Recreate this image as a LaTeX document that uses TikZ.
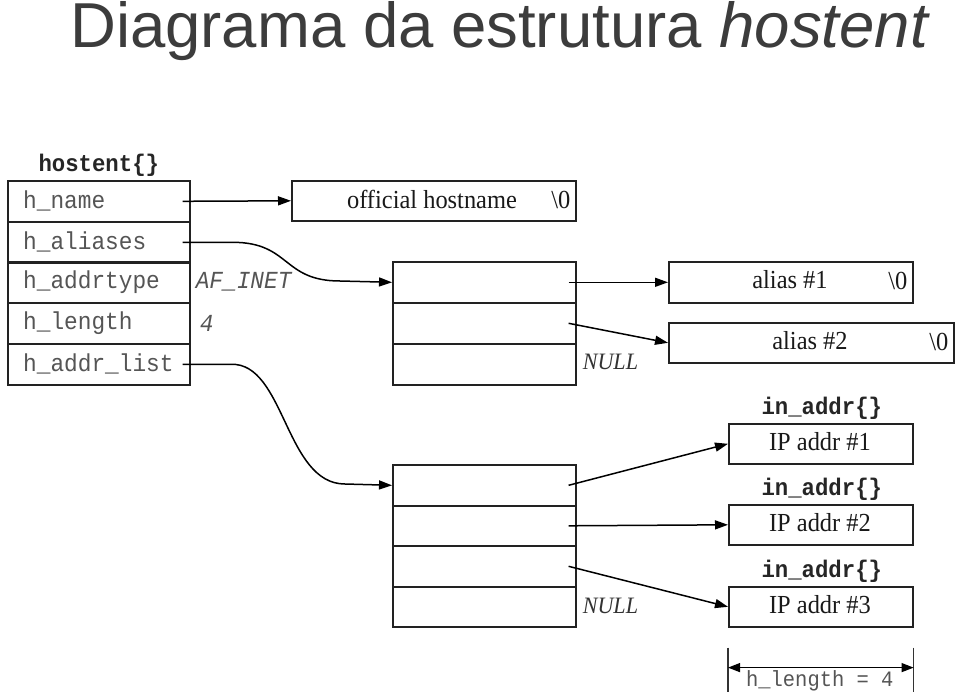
\documentclass[tikz,border=0pt]{standalone}
\usepackage{fontspec}
\setmainfont{Liberation Serif}
\newfontfamily\titlefont{Liberation Sans}
\newfontfamily\monofnt[FakeStretch=0.93]{Liberation Mono}
\newfontfamily\seriffnt[FakeStretch=0.94]{Liberation Serif}
\usetikzlibrary{arrows.meta,calc}
\definecolor{titlegray}{HTML}{3C3C3C}
\definecolor{linegray}{HTML}{222222}
\definecolor{monogray}{HTML}{555555}
\tikzset{
  cell/.style={draw=linegray, line width=1.6pt, inner sep=0pt, anchor=north west, minimum height=41pt},
  monolbl/.style={inner sep=0pt, text=monogray, font=\monofnt\fontsize{24.5}{24.5}\selectfont},
  monoital/.style={inner sep=0pt, text=monogray, font=\monofnt\itshape\fontsize{24.5}{24.5}\selectfont},
  monobold/.style={inner sep=0pt, text=black!85, font=\monofnt\bfseries\fontsize{24}{24}\selectfont},
  seriflbl/.style={inner sep=0pt, text=black!90, font=\seriffnt\fontsize{26}{26}\selectfont},
  nulllbl/.style={inner sep=0pt, text=black!80, font=\seriffnt\itshape\fontsize{23.5}{23.5}\selectfont},
  conn/.style={draw=black, line width=1.5pt, -{Triangle[length=13pt,width=9pt]}},
}
\begin{document}
\begin{tikzpicture}[x=1pt,y=-1pt]
\fill[white] (0,0) rectangle (960,698);
\path[use as bounding box] (0,0) rectangle (960,698);

% title
\node[anchor=base west, inner sep=0pt, text=titlegray] (title) at (70,48)
  {\titlefont\fontsize{63.5}{63.5}\selectfont Diagrama da estrutura \textit{hostent}};

% hostent structure
\node[cell, minimum width=182pt] (hn) at (7,180) {};
\node[cell, minimum width=182pt] (ha) at (7,221) {};
\node[cell, minimum width=182pt] (ht) at (7,261) {};
\node[cell, minimum width=182pt] (hl) at (7,302) {};
\node[cell, minimum width=182pt] (hd) at (7,343) {};
\node[monobold, anchor=south] (hlabel) at ([yshift=3pt]hn.north) {hostent\{\}};
\node[monolbl, anchor=west] (t1) at ([xshift=16pt]hn.west) {h\_name};
\node[monolbl, anchor=west] (t2) at ([xshift=16pt]ha.west) {h\_aliases};
\node[monolbl, anchor=west] (t3) at ([xshift=16pt]ht.west) {h\_addrtype};
\node[monolbl, anchor=west] (t4) at ([xshift=16pt]hl.west) {h\_length};
\node[monolbl, anchor=west] (t5) at ([xshift=16pt]hd.west) {h\_addr\_list};
\node[monoital, anchor=west] (afinet) at ([xshift=5pt,yshift=1pt]ht.east) {AF\_INET};
\node[monoital, anchor=west] (four) at ([xshift=9pt]hl.east) {4};

% official hostname
\node[cell, minimum width=284pt, minimum height=40pt] (oh) at (291,180) {};
\node[seriflbl] (ohtxt) at (432,199) {official hostname};
\node[seriflbl, anchor=east] (oh0) at ([xshift=-6pt,yshift=1pt]oh.east) {\textbackslash 0};

% alias pointer array
\node[cell, minimum width=183pt] (a1) at (392,261) {};
\node[cell, minimum width=183pt] (a2) at (392,302) {};
\node[cell, minimum width=183pt] (a3) at (392,343) {};
\node[nulllbl, anchor=west] (null1) at ([xshift=6pt,yshift=2pt]a3.east) {NULL};

% alias strings
\node[cell, minimum width=244pt] (al1) at (668,261) {};
\node[seriflbl] (al1t) at (790,280) {alias \#1};
\node[seriflbl, anchor=east] (al10) at ([xshift=-6pt,yshift=1pt]al1.east) {\textbackslash 0};
\node[cell, minimum width=285pt, minimum height=40pt] (al2) at (668,322) {};
\node[seriflbl] (al2t) at (810,341) {alias \#2};
\node[seriflbl, anchor=east] (al20) at ([xshift=-6pt,yshift=1pt]al2.east) {\textbackslash 0};

% address pointer array
\node[cell, minimum width=183pt, minimum height=41pt] (b1) at (392,464) {};
\node[cell, minimum width=183pt, minimum height=40pt] (b2) at (392,505) {};
\node[cell, minimum width=183pt, minimum height=41pt] (b3) at (392,545) {};
\node[cell, minimum width=183pt, minimum height=40pt] (b4) at (392,586) {};
\node[nulllbl, anchor=west] (null2) at ([xshift=6pt,yshift=1pt]b4.east) {NULL};

% in_addr structures
\node[cell, minimum width=184pt, minimum height=40pt] (ip1) at (728,423) {};
\node[cell, minimum width=184pt, minimum height=40pt] (ip2) at (728,504) {};
\node[cell, minimum width=184pt, minimum height=40pt] (ip3) at (728,586) {};
\node[seriflbl] (ip1t) at (820,442) {IP addr \#1};
\node[seriflbl] (ip2t) at (820,523) {IP addr \#2};
\node[seriflbl] (ip3t) at (820,605) {IP addr \#3};
\node[monobold, anchor=south] (in1) at ([xshift=1pt,yshift=3pt]ip1.north) {in\_addr\{\}};
\node[monobold, anchor=south] (in2) at ([xshift=1pt,yshift=3pt]ip2.north) {in\_addr\{\}};
\node[monobold, anchor=south] (in3) at ([xshift=1pt,yshift=3pt]ip3.north) {in\_addr\{\}};

% connectors
\draw[conn] ([xshift=-8pt]hn.east) -- (oh.west);
\draw[conn] ([xshift=-8pt]ha.east) -- ++(50,0) .. controls ++(58,0) and (282,281) .. (340,281) -- (a1.west);
\draw[conn] ([xshift=-8pt]hd.east) -- ++(48,0) .. controls (285,362) and (285,484) .. (345,484) -- (b1.west);
\draw[conn] ([xshift=-8pt]a1.east) -- (al1.west);
\draw[conn] ([xshift=-8pt]a2.east) -- (al2.west);
\draw[conn] ([xshift=-8pt]b1.east) -- (ip1.west);
\draw[conn] ([xshift=-8pt]b2.east) -- (ip2.west);
\draw[conn] ([xshift=-8pt]b3.east) -- (ip3.west);

% dimension
\coordinate (dl) at ([yshift=-20pt]ip3.south west);
\coordinate (dr) at ([yshift=-20pt]ip3.south east);
\draw[draw=black!80, line width=1.6pt] (dl) -- ++(0,44);
\draw[draw=black!80, line width=1.6pt] (dr) -- ++(0,44);
\draw[line width=1.2pt, {Triangle[length=12pt,width=9pt]}-{Triangle[length=12pt,width=9pt]}] ([yshift=-20pt]dl) -- ([yshift=-20pt]dr);
\node[monolbl, anchor=north, font=\monofnt\fontsize{22}{22}\selectfont] (hlen) at ($(dl)!0.5!(dr)+(-1,23)$) {h\_length = 4};
\end{tikzpicture}
\end{document}
